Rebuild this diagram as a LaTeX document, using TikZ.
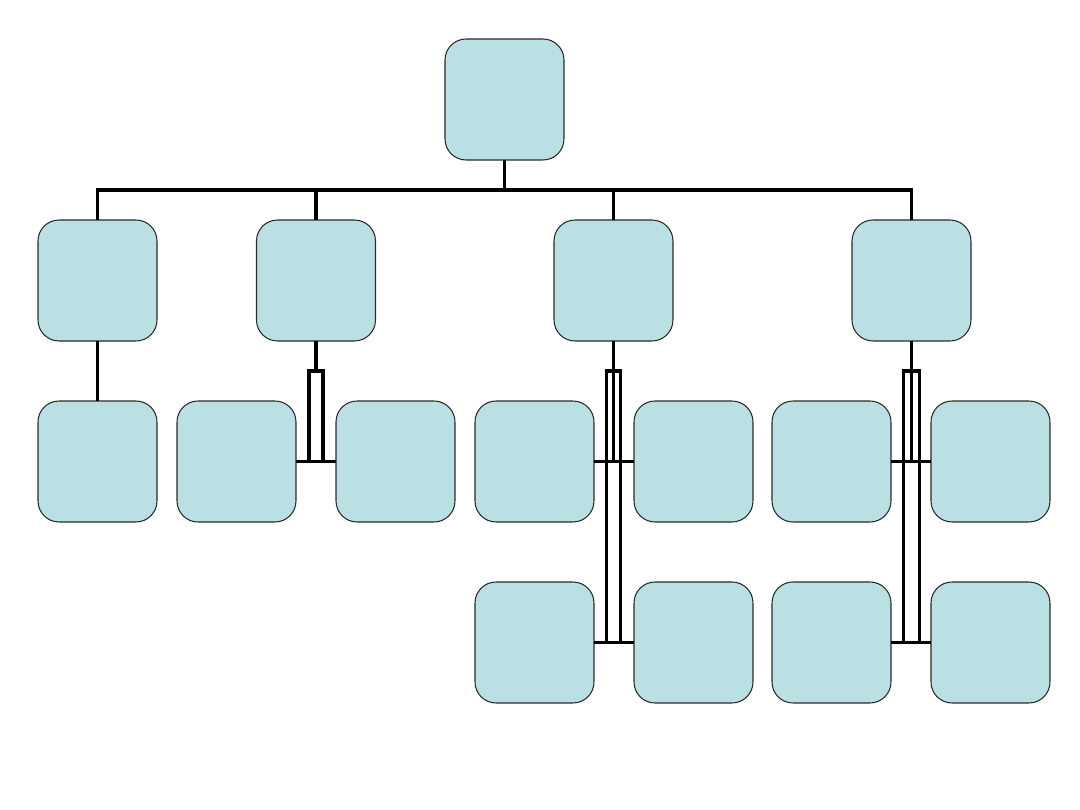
\documentclass[tikz,border=0pt]{standalone}
\usepackage{xcolor}
\definecolor{boxfill}{HTML}{BBE0E3}
\definecolor{boxline}{HTML}{2A2A2A}
\begin{document}
\begin{tikzpicture}[x=0.02cm,y=-0.02cm,
  orgbox/.style={draw=boxline,line width=0.6pt,fill=boxfill,rounded corners=0.42cm,
    minimum width=2.38cm,minimum height=2.42cm,inner sep=0pt,outer sep=0pt},
  conn/.style={line width=1.9pt,black}]
\useasboundingbox (0,0) rectangle (1080,810);
% nodes
\node[orgbox] (root) at (504.5,99.5) {};
\node[orgbox] (A) at (97.5,280.5) {};
\node[orgbox] (B) at (316,280.5) {};
\node[orgbox] (C) at (613.5,280.5) {};
\node[orgbox] (D) at (911.5,280.5) {};
\node[orgbox] (A1) at (97.5,461.5) {};
\node[orgbox] (B1) at (236.5,461.5) {};
\node[orgbox] (B2) at (395.5,461.5) {};
\node[orgbox] (C1) at (534.5,461.5) {};
\node[orgbox] (C2) at (693.5,461.5) {};
\node[orgbox] (C3) at (534.5,642.5) {};
\node[orgbox] (C4) at (693.5,642.5) {};
\node[orgbox] (D1) at (831.5,461.5) {};
\node[orgbox] (D2) at (990.5,461.5) {};
\node[orgbox] (D3) at (831.5,642.5) {};
\node[orgbox] (D4) at (990.5,642.5) {};
% level 1 bus
\draw[conn] (root.south) -- ++(0,30) coordinate (bus);
\draw[conn] (A.north) |- (bus);
\draw[conn] (B.north) |- (bus);
\draw[conn] (C.north) |- (bus);
\draw[conn] (D.north) |- (bus);
% A
\draw[conn] (A.south) -- (A1.north);
% B
\draw[conn] (B.south) -- ++(0,30) coordinate (bj);
\draw[conn] (bj) -- ++(-7,0) |- (B1.east);
\draw[conn] (bj) -- ++(7,0) |- (B2.west);
\draw[conn] (B1.east) -- (B2.west);
% C
\draw[conn] (C.south) -- ++(0,30) coordinate (cj);
\draw[conn] (C.south) |- (C1.east);
\draw[conn] (C.south) |- (C2.west);
\draw[conn] (cj) -- ++(-7,0) |- (C3.east);
\draw[conn] (cj) -- ++(7,0) |- (C4.west);
\draw[conn] (C3.east) -- (C4.west);
% D
\draw[conn] (D.south) -- ++(0,30) coordinate (dj);
\draw[conn] (D.south) |- (D1.east);
\draw[conn] (D.south) |- (D2.west);
\draw[conn] (dj) -- ++(-8,0) |- (D3.east);
\draw[conn] (dj) -- ++(8,0) |- (D4.west);
\draw[conn] (D3.east) -- (D4.west);
\end{tikzpicture}
\end{document}
